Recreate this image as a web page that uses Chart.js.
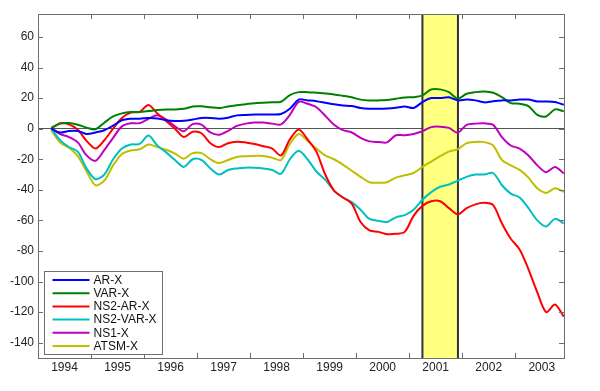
<!DOCTYPE html>
<html>
<head>
<meta charset="utf-8">
<script src="https://cdn.jsdelivr.net/npm/chart.js@4.4.0/dist/chart.umd.min.js"></script>
<style>
  body { margin: 0; background: #fff; }
  #wrap { width: 600px; height: 391px; }
</style>
</head>
<body>
<div id="wrap"><canvas id="myChart" width="600" height="391"></canvas></div>
<script>
// every two months, Apr 1994 .. Dec 2003
const months = [
  '1994-04','1994-06','1994-08','1994-10','1994-12',
  '1995-02','1995-04','1995-06','1995-08','1995-10','1995-12',
  '1996-02','1996-04','1996-06','1996-08','1996-10','1996-12',
  '1997-02','1997-04','1997-06','1997-08','1997-10','1997-12',
  '1998-02','1998-04','1998-06','1998-08','1998-10','1998-12',
  '1999-02','1999-04','1999-06','1999-08','1999-10','1999-12',
  '2000-02','2000-04','2000-06','2000-08','2000-10','2000-12',
  '2001-02','2001-04','2001-06','2001-08','2001-10','2001-12',
  '2002-02','2002-04','2002-06','2002-08','2002-10','2002-12',
  '2003-02','2003-04','2003-06','2003-08','2003-10','2003-12'
];

const arX = [0, -2.5, -1.5, -1.5, -3.5, -2.5, -1, 2, 5.5, 6.5,
  6.5, 7, 6.7, 5.5, 5, 5.2, 6, 7, 7, 6.5, 7.2,
  8.7, 9, 9.2, 9.3, 9.3, 9.6, 13, 19, 18.5, 18, 17,
  16, 15.2, 14.8, 13.5, 13, 13, 13.2, 13.7, 14.5, 13.5, 17.4,
  20, 20, 20.5, 18.5, 19, 18.5, 17.2, 18, 18.5, 18.5, 19, 19, 17.8, 17.8, 17.4, 15.6];

const varX = [0.5, 3.3, 3.7, 2.6, 0.7, -0.4, 3.9, 8, 10, 10.9,
  10.9, 11.5, 12.2, 12.6, 12.6, 13, 14.5, 14.6, 14, 13.5, 14.5,
  15.3, 16, 16.7, 17, 17.2, 17.6, 22, 23.9, 23.9, 23.5, 23,
  22.4, 21.5, 20.5, 19, 18.5, 18.5, 18.7, 19.6, 20.4, 20.6, 21.8,
  25.7, 25.7, 23.9, 19.6, 22.8, 23.9, 24.3, 23.5, 20.6, 16.7, 16.3, 14.8, 9, 8, 12.6, 11.3];

const ns2arX = [0, 3.5, 2.8, -0.7, -8, -13, -7.6, 0, 7, 10.5,
  11, 15.5, 10, 5, 0, -5.5, -2, -3, -9.5, -12, -9.5,
  -8.5, -9, -10, -11.5, -13, -17.5, -7, -0.5, -7, -15, -30,
  -40.5, -45, -49, -61, -66.5, -67.5, -69, -68.8, -67.5, -57, -50.5,
  -47.5, -47.5, -52, -56, -52, -49.5, -48.5, -50, -62, -72, -79, -92, -107, -120, -115, -123];

const ns2varX = [0, -7.5, -12, -15, -26, -33, -30, -20, -13, -10.4,
  -10, -4.5, -11, -15.5, -20.5, -25, -20, -20.5, -26, -30, -27,
  -26, -25.5, -25.6, -26, -27, -29.5, -20, -14.5, -20, -28, -33.5,
  -40.5, -45, -48, -53, -59, -60.3, -61, -58, -56.5, -53, -46.5,
  -41.5, -38, -36.5, -34, -31.5, -30, -30, -29, -37, -42.5, -45, -52, -60, -64, -59, -62];

const ns1X = [0, -3.5, -5.5, -9, -17.5, -21, -14, -6, 1.5, 3.5,
  3.6, 6.5, 8.8, 6, 1.5, -1.7, 3, 2.6, -2.5, -4, -1.5,
  1.8, 3.3, 4, 4, 3.3, 2.8, 9, 17.5, 16.3, 14, 8.5,
  2.5, -1, -2.5, -6, -8.3, -8.7, -9, -4.3, -4.3, -3.5, -1.7,
  1, 1.3, 0.5, -2.6, 2.5, 3.3, 3.5, 2.5, -5.5, -11, -13, -17.5, -24, -28.5, -25, -29.3];

const atsmX = [-1, -9, -12.5, -18, -28, -37, -34, -24, -16.5, -14.3,
  -13.5, -10.4, -12, -13.8, -16.3, -19.6, -16, -16, -20, -22.5, -20.5,
  -18.5, -18, -17.8, -17.8, -19, -20.5, -10, -3.5, -8, -13, -17.5,
  -20, -23.5, -27.5, -31.5, -35, -35.4, -35, -32, -30.5, -29, -25,
  -21.5, -18, -15, -13.5, -9.5, -8.7, -8.8, -11, -20.5, -24, -27, -32, -39, -42, -39, -41.3];

const yearLabels = [1994, 1995, 1996, 1997, 1998, 1999, 2000, 2001, 2002, 2003];
const yearTicks = [1995, 1996, 1997, 1998, 1999, 2000, 2001, 2002, 2003];
const yTicks = [-140, -120, -100, -80, -60, -40, -20, 0, 20, 40, 60];
const recession = [2001.25, 2001.92];

const seriesNames = ['AR-X', 'VAR-X', 'NS2-AR-X', 'NS2-VAR-X', 'NS1-X', 'ATSM-X'];
const seriesColors = ['#0000ff', '#008000', '#ff0000', '#00bfbf', '#bf00bf', '#bfbf00'];
const seriesData = [arX, varX, ns2arX, ns2varX, ns1X, atsmX];

function toYear(m) {
    let p = m.split('-');
    return parseInt(p[0]) + (parseInt(p[1]) - 1) / 12;
}

const FONT = '"Liberation Sans", Arial, sans-serif';

const frame = {
    id: 'frame',
    beforeDatasetsDraw(chart) {
        const c = chart.ctx, a = chart.chartArea, xs = chart.scales.x;
        let x1 = xs.getPixelForValue(recession[0]);
        let x2 = xs.getPixelForValue(recession[1]);
        c.save();
        c.fillStyle = '#ffff80';
        c.fillRect(x1, a.top, x2 - x1, a.bottom - a.top);
        c.strokeStyle = '#333';
        c.lineWidth = 2;
        c.beginPath();
        c.moveTo(x1, a.top); c.lineTo(x1, a.bottom);
        c.moveTo(x2, a.top); c.lineTo(x2, a.bottom);
        c.stroke();
        c.restore();
    },
    afterDatasetsDraw(chart) {
        const c = chart.ctx, a = chart.chartArea;
        const xs = chart.scales.x, ys = chart.scales.y;
        c.save();
        c.strokeStyle = '#6e6e6e';
        c.lineWidth = 1;
        c.strokeRect(Math.round(a.left) + 0.5, Math.round(a.top) + 0.5,
            Math.round(a.right - a.left), Math.round(a.bottom - a.top));
        c.beginPath();
        yearTicks.forEach(function (v) {
            let px = Math.round(xs.getPixelForValue(v)) + 0.5;
            c.moveTo(px, a.bottom); c.lineTo(px, a.bottom - 5);
            c.moveTo(px, a.top); c.lineTo(px, a.top + 5);
        });
        yTicks.forEach(function (v) {
            let py = Math.round(ys.getPixelForValue(v)) + 0.5;
            c.moveTo(a.left, py); c.lineTo(a.left + 5, py);
            c.moveTo(a.right, py); c.lineTo(a.right - 5, py);
        });
        c.stroke();

        // legend box, lower left inside the axes
        const bw = 118, bh = 83;
        const bx = Math.round(a.left + 6) + 0.5;
        const by = Math.round(a.bottom - 4 - bh) + 0.5;
        c.fillStyle = '#fff';
        c.fillRect(bx, by, bw, bh);
        c.strokeStyle = '#6e6e6e';
        c.strokeRect(bx, by, bw, bh);
        c.font = '12px ' + FONT;
        c.textBaseline = 'middle';
        c.textAlign = 'left';
        for (let i = 0; i < seriesNames.length; i++) {
            let ry = by + 8.5 + i * 13.2;
            c.strokeStyle = seriesColors[i];
            c.lineWidth = 2;
            c.beginPath();
            c.moveTo(bx + 8, ry); c.lineTo(bx + 45, ry);
            c.stroke();
            c.fillStyle = '#111';
            c.fillText(seriesNames[i], bx + 49, ry + 0.5);
        }
        c.restore();
    }
};

const ctx = document.getElementById('myChart');

new Chart(ctx, {
    type: 'line',
    data: {
        datasets: seriesNames.map(function (name, i) {
            return {
                label: name,
                data: months.map(function (m, k) { return { x: toYear(m), y: seriesData[i][k] }; }),
                borderColor: seriesColors[i],
                backgroundColor: seriesColors[i],
                borderWidth: 2,
                pointRadius: 0,
                tension: 0.3,
                fill: false
            };
        })
    },
    options: {
        responsive: false,
        animation: false,
        layout: { padding: { top: 14, right: 36, left: 0, bottom: 0 } },
        plugins: {
            legend: { display: false },
            tooltip: { enabled: false }
        },
        scales: {
            x: {
                type: 'linear',
                min: 1994,
                max: 2003.92,
                afterBuildTicks: function (scale) {
                    scale.ticks = yearLabels.map(function (v) { return { value: v + 0.5 }; });
                },
                afterFit: function (scale) { scale.height = 33; },
                grid: { display: false, drawTicks: false },
                border: { display: false },
                ticks: {
                    autoSkip: false,
                    maxRotation: 0,
                    padding: 2,
                    color: '#222',
                    font: { family: FONT, size: 12 },
                    callback: function (v) { return String(Math.floor(v)); }
                }
            },
            y: {
                min: -150,
                max: 75,
                afterBuildTicks: function (scale) {
                    scale.ticks = yTicks.map(function (v) { return { value: v }; });
                },
                afterFit: function (scale) { scale.width = 38; },
                grid: {
                    drawTicks: false,
                    lineWidth: 1,
                    color: function (c) { return c.tick && c.tick.value === 0 ? '#555' : 'rgba(0,0,0,0)'; }
                },
                border: { display: false },
                ticks: {
                    padding: 4,
                    color: '#222',
                    font: { family: FONT, size: 12 }
                }
            }
        }
    },
    plugins: [frame]
});
</script>
</body>
</html>
